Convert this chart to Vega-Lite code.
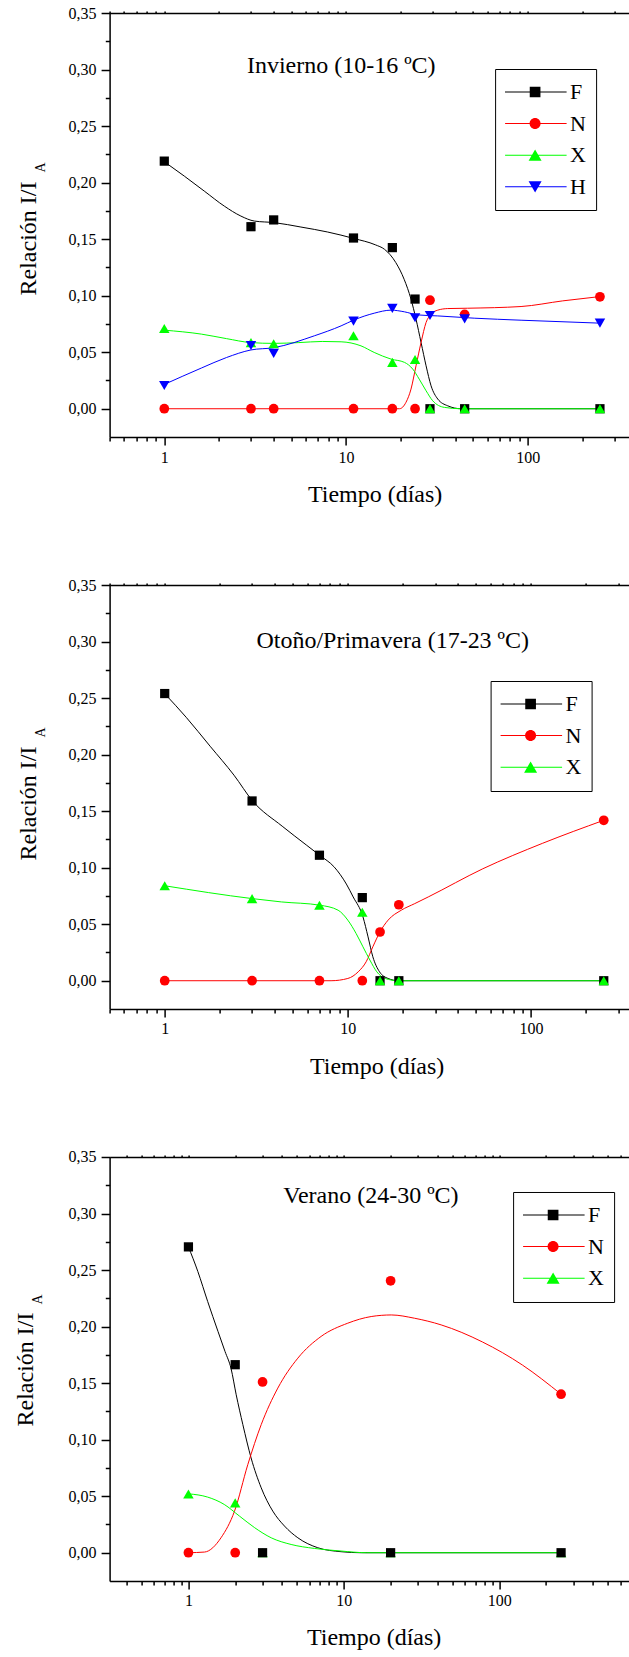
{
  "$schema": "https://vega.github.io/schema/vega-lite/v6.json",
  "background": "white",
  "padding": {"left": 12.6, "top": 5, "right": 0, "bottom": 0},
  "bounds": "flush",
  "spacing": 148,
  "config": {
    "view": {"stroke": null},
    "font": "Liberation Serif, Times New Roman, serif",
    "text": {"font": "Liberation Serif, Times New Roman, serif", "color": "black"},
    "axis": {"domainColor": "black", "tickColor": "black", "domainWidth": 1.5, "tickWidth": 1.5, "labelColor": "black", "titleColor": "black", "labelFont": "Liberation Serif, Times New Roman, serif", "titleFont": "Liberation Serif, Times New Roman, serif", "labelFontSize": 16, "titleFontSize": 24, "titleFontWeight": "normal", "grid": false, "labelOverlap": false, "labelFlush": false},
    "legend": {"strokeColor": "black", "padding": 10, "symbolSize": 100, "symbolStrokeWidth": 0, "symbolOpacity": 1, "labelFont": "Liberation Serif, Times New Roman, serif", "labelFontSize": 22, "labelColor": "black", "clipHeight": 26, "rowPadding": 5.6, "symbolOffset": 19, "labelOffset": 24, "labelBaseline": "middle"}
  },
  "datasets": {
    "p1pts": [
      {"s": "F", "t": 1, "v": 0.219}, {"s": "F", "t": 3, "v": 0.161}, {"s": "F", "t": 4, "v": 0.167}, {"s": "F", "t": 11, "v": 0.151}, {"s": "F", "t": 18, "v": 0.1425}, {"s": "F", "t": 24, "v": 0.097}, {"s": "F", "t": 29, "v": 0}, {"s": "F", "t": 45, "v": 0}, {"s": "F", "t": 250, "v": 0},
      {"s": "N", "t": 1, "v": 0}, {"s": "N", "t": 3, "v": 0}, {"s": "N", "t": 4, "v": 0}, {"s": "N", "t": 11, "v": 0}, {"s": "N", "t": 18, "v": 0}, {"s": "N", "t": 24, "v": 0}, {"s": "N", "t": 29, "v": 0.096}, {"s": "N", "t": 45, "v": 0.0835}, {"s": "N", "t": 250, "v": 0.099},
      {"s": "X", "t": 1, "v": 0.071}, {"s": "X", "t": 3, "v": 0.0585}, {"s": "X", "t": 4, "v": 0.0575}, {"s": "X", "t": 11, "v": 0.0645}, {"s": "X", "t": 18, "v": 0.041}, {"s": "X", "t": 24, "v": 0.0435}, {"s": "X", "t": 29, "v": 0}, {"s": "X", "t": 45, "v": 0}, {"s": "X", "t": 250, "v": 0},
      {"s": "H", "t": 1, "v": 0.0205}, {"s": "H", "t": 3, "v": 0.056}, {"s": "H", "t": 4, "v": 0.049}, {"s": "H", "t": 11, "v": 0.0775}, {"s": "H", "t": 18, "v": 0.0888}, {"s": "H", "t": 24, "v": 0.0805}, {"s": "H", "t": 29, "v": 0.0825}, {"s": "H", "t": 45, "v": 0.0795}, {"s": "H", "t": 250, "v": 0.0757}
    ],
    "p1crv": [
      {"s": "F", "t": 1, "v": 0.2185}, {"s": "F", "t": 1.29, "v": 0.2057}, {"s": "F", "t": 1.66, "v": 0.1925}, {"s": "F", "t": 2.14, "v": 0.1792}, {"s": "F", "t": 2.64, "v": 0.1704}, {"s": "F", "t": 3.13, "v": 0.166}, {"s": "F", "t": 4.03, "v": 0.1646}, {"s": "F", "t": 5.65, "v": 0.1607}, {"s": "F", "t": 7.93, "v": 0.1563}, {"s": "F", "t": 11.1, "v": 0.1505}, {"s": "F", "t": 14.5, "v": 0.145}, {"s": "F", "t": 16.3, "v": 0.141}, {"s": "F", "t": 18.8, "v": 0.1293}, {"s": "F", "t": 20.9, "v": 0.1145}, {"s": "F", "t": 22.8, "v": 0.0969}, {"s": "F", "t": 24.3, "v": 0.0792}, {"s": "F", "t": 25.9, "v": 0.0586}, {"s": "F", "t": 27.6, "v": 0.038}, {"s": "F", "t": 29.4, "v": 0.0203}, {"s": "F", "t": 32, "v": 0.0086}, {"s": "F", "t": 36.3, "v": 0.0026}, {"s": "F", "t": 43, "v": 0}, {"s": "F", "t": 250, "v": 0},
      {"s": "N", "t": 1, "v": 0}, {"s": "N", "t": 19.7, "v": 0}, {"s": "N", "t": 21.4, "v": 0.0057}, {"s": "N", "t": 22.8, "v": 0.0174}, {"s": "N", "t": 24.3, "v": 0.038}, {"s": "N", "t": 25.9, "v": 0.0586}, {"s": "N", "t": 27.6, "v": 0.0763}, {"s": "N", "t": 29.4, "v": 0.0836}, {"s": "N", "t": 32, "v": 0.0872}, {"s": "N", "t": 36.3, "v": 0.0886}, {"s": "N", "t": 46.7, "v": 0.0889}, {"s": "N", "t": 92, "v": 0.0904}, {"s": "N", "t": 156, "v": 0.0954}, {"s": "N", "t": 250, "v": 0.0992},
      {"s": "X", "t": 1, "v": 0.0695}, {"s": "X", "t": 1.6, "v": 0.066}, {"s": "X", "t": 2.2, "v": 0.062}, {"s": "X", "t": 3, "v": 0.0585}, {"s": "X", "t": 4, "v": 0.0578}, {"s": "X", "t": 5.5, "v": 0.0585}, {"s": "X", "t": 7.4, "v": 0.0595}, {"s": "X", "t": 9.4, "v": 0.0592}, {"s": "X", "t": 12.1, "v": 0.0556}, {"s": "X", "t": 14.3, "v": 0.0498}, {"s": "X", "t": 17.7, "v": 0.0439}, {"s": "X", "t": 21, "v": 0.041}, {"s": "X", "t": 23.3, "v": 0.0351}, {"s": "X", "t": 25.3, "v": 0.0262}, {"s": "X", "t": 27.6, "v": 0.0159}, {"s": "X", "t": 30, "v": 0.0071}, {"s": "X", "t": 34.8, "v": 0.0012}, {"s": "X", "t": 43, "v": 0}, {"s": "X", "t": 250, "v": 0},
      {"s": "H", "t": 1, "v": 0.0215}, {"s": "H", "t": 1.6, "v": 0.036}, {"s": "H", "t": 2.2, "v": 0.0453}, {"s": "H", "t": 3, "v": 0.052}, {"s": "H", "t": 4, "v": 0.054}, {"s": "H", "t": 6.7, "v": 0.0645}, {"s": "H", "t": 9.4, "v": 0.0733}, {"s": "H", "t": 11.1, "v": 0.0786}, {"s": "H", "t": 14.3, "v": 0.0845}, {"s": "H", "t": 17.7, "v": 0.0872}, {"s": "H", "t": 21, "v": 0.0857}, {"s": "H", "t": 24.8, "v": 0.083}, {"s": "H", "t": 32, "v": 0.0821}, {"s": "H", "t": 50.8, "v": 0.0801}, {"s": "H", "t": 92, "v": 0.0783}, {"s": "H", "t": 250, "v": 0.0757}
    ],
    "p2pts": [
      {"s": "F", "t": 1, "v": 0.254}, {"s": "F", "t": 3, "v": 0.159}, {"s": "F", "t": 7, "v": 0.111}, {"s": "F", "t": 12, "v": 0.0735}, {"s": "F", "t": 15, "v": 0}, {"s": "F", "t": 19, "v": 0}, {"s": "F", "t": 250, "v": 0},
      {"s": "N", "t": 1, "v": 0}, {"s": "N", "t": 3, "v": 0}, {"s": "N", "t": 7, "v": 0}, {"s": "N", "t": 12, "v": 0}, {"s": "N", "t": 15, "v": 0.0431}, {"s": "N", "t": 19, "v": 0.0672}, {"s": "N", "t": 250, "v": 0.1419},
      {"s": "X", "t": 1, "v": 0.084}, {"s": "X", "t": 3, "v": 0.0726}, {"s": "X", "t": 7, "v": 0.0668}, {"s": "X", "t": 12, "v": 0.0605}, {"s": "X", "t": 15, "v": 0}, {"s": "X", "t": 19, "v": 0}, {"s": "X", "t": 250, "v": 0}
    ],
    "p2crv": [
      {"s": "F", "t": 1, "v": 0.2539}, {"s": "F", "t": 1.31, "v": 0.233}, {"s": "F", "t": 1.77, "v": 0.2074}, {"s": "F", "t": 2.39, "v": 0.1818}, {"s": "F", "t": 3.02, "v": 0.159}, {"s": "F", "t": 4.38, "v": 0.1367}, {"s": "F", "t": 5.93, "v": 0.1201}, {"s": "F", "t": 7.04, "v": 0.1108}, {"s": "F", "t": 8.44, "v": 0.1005}, {"s": "F", "t": 9.82, "v": 0.0855}, {"s": "F", "t": 10.7, "v": 0.0741}, {"s": "F", "t": 12.1, "v": 0.0565}, {"s": "F", "t": 12.9, "v": 0.0388}, {"s": "F", "t": 13.7, "v": 0.0212}, {"s": "F", "t": 14.9, "v": 0.0079}, {"s": "F", "t": 16.6, "v": 0.002}, {"s": "F", "t": 19, "v": 0}, {"s": "F", "t": 250, "v": 0},
      {"s": "N", "t": 1, "v": 0}, {"s": "N", "t": 8.1, "v": 0}, {"s": "N", "t": 10, "v": 0.002}, {"s": "N", "t": 11.4, "v": 0.0079}, {"s": "N", "t": 12.6, "v": 0.0168}, {"s": "N", "t": 13.7, "v": 0.03}, {"s": "N", "t": 15, "v": 0.0433}, {"s": "N", "t": 16.6, "v": 0.0536}, {"s": "N", "t": 19.6, "v": 0.0624}, {"s": "N", "t": 23.2, "v": 0.0682}, {"s": "N", "t": 27.5, "v": 0.0741}, {"s": "N", "t": 54.6, "v": 0.099}, {"s": "N", "t": 116, "v": 0.1216}, {"s": "N", "t": 250, "v": 0.1419},
      {"s": "X", "t": 1, "v": 0.084}, {"s": "X", "t": 3.02, "v": 0.0726}, {"s": "X", "t": 4.34, "v": 0.0697}, {"s": "X", "t": 7.04, "v": 0.0668}, {"s": "X", "t": 8.85, "v": 0.0624}, {"s": "X", "t": 10, "v": 0.0536}, {"s": "X", "t": 11.1, "v": 0.0418}, {"s": "X", "t": 12.1, "v": 0.03}, {"s": "X", "t": 13.2, "v": 0.0183}, {"s": "X", "t": 14.4, "v": 0.0079}, {"s": "X", "t": 16, "v": 0.002}, {"s": "X", "t": 19, "v": 0}, {"s": "X", "t": 250, "v": 0}
    ],
    "p3pts": [
      {"s": "F", "t": 1, "v": 0.2705}, {"s": "F", "t": 2, "v": 0.1663}, {"s": "F", "t": 3, "v": 0}, {"s": "F", "t": 20, "v": 0}, {"s": "F", "t": 250, "v": 0},
      {"s": "N", "t": 1, "v": 0}, {"s": "N", "t": 2, "v": 0}, {"s": "N", "t": 3, "v": 0.151}, {"s": "N", "t": 20, "v": 0.2405}, {"s": "N", "t": 250, "v": 0.1402},
      {"s": "X", "t": 1, "v": 0.052}, {"s": "X", "t": 2, "v": 0.0441}, {"s": "X", "t": 3, "v": 0}, {"s": "X", "t": 20, "v": 0}, {"s": "X", "t": 250, "v": 0}
    ],
    "p3crv": [
      {"s": "F", "t": 1, "v": 0.2705}, {"s": "F", "t": 1.15, "v": 0.2487}, {"s": "F", "t": 1.33, "v": 0.2222}, {"s": "F", "t": 1.55, "v": 0.1957}, {"s": "F", "t": 1.72, "v": 0.178}, {"s": "F", "t": 1.88, "v": 0.163}, {"s": "F", "t": 2.03, "v": 0.1397}, {"s": "F", "t": 2.24, "v": 0.1133}, {"s": "F", "t": 2.53, "v": 0.0839}, {"s": "F", "t": 2.94, "v": 0.0574}, {"s": "F", "t": 3.49, "v": 0.0368}, {"s": "F", "t": 4.15, "v": 0.0236}, {"s": "F", "t": 5.06, "v": 0.0132}, {"s": "F", "t": 6.8, "v": 0.0044}, {"s": "F", "t": 9.6, "v": 0.0009}, {"s": "F", "t": 13, "v": 0}, {"s": "F", "t": 250, "v": 0},
      {"s": "N", "t": 1, "v": 0}, {"s": "N", "t": 1.27, "v": 0.0006}, {"s": "N", "t": 1.62, "v": 0.0132}, {"s": "N", "t": 1.98, "v": 0.0368}, {"s": "N", "t": 2.41, "v": 0.0779}, {"s": "N", "t": 2.94, "v": 0.1133}, {"s": "N", "t": 3.76, "v": 0.1456}, {"s": "N", "t": 5.06, "v": 0.1721}, {"s": "N", "t": 7.14, "v": 0.1913}, {"s": "N", "t": 10.6, "v": 0.203}, {"s": "N", "t": 15, "v": 0.2089}, {"s": "N", "t": 20.2, "v": 0.2103}, {"s": "N", "t": 28.5, "v": 0.2074}, {"s": "N", "t": 42.3, "v": 0.2015}, {"s": "N", "t": 78, "v": 0.1864}, {"s": "N", "t": 141, "v": 0.166}, {"s": "N", "t": 250, "v": 0.1402},
      {"s": "X", "t": 1, "v": 0.0521}, {"s": "X", "t": 1.33, "v": 0.0492}, {"s": "X", "t": 1.7, "v": 0.0427}, {"s": "X", "t": 2.13, "v": 0.0324}, {"s": "X", "t": 2.67, "v": 0.0221}, {"s": "X", "t": 3.41, "v": 0.0132}, {"s": "X", "t": 4.58, "v": 0.0073}, {"s": "X", "t": 6.46, "v": 0.0038}, {"s": "X", "t": 9.6, "v": 0.0015}, {"s": "X", "t": 14, "v": 0}, {"s": "X", "t": 250, "v": 0}
    ]
  },
  "vconcat": [
    {
      "width": 520, "height": 424,
      "layer": [
        {
          "data": {"name": "p1crv"}, "transform": [{"filter": "datum.s === 'F'"}],
          "mark": {"type": "line", "interpolate": "monotone", "strokeWidth": 1, "color": "#000000"},
          "encoding": {
            "x": {"field": "t", "type": "quantitative", "scale": {"type": "log", "domain": [0.5, 364], "nice": false},
              "axis": {"orient": "bottom", "values": [1, 10, 100], "tickSize": 8, "format": "d", "labelPadding": 4, "title": "Tiempo (días)", "titleX": 265, "titleY": 57, "titleBaseline": "middle", "titleAlign": "center"}},
            "y": {"field": "v", "type": "quantitative", "scale": {"domain": [-0.025, 0.35], "nice": false, "zero": false},
              "axis": {"orient": "left", "values": [0, 0.05, 0.1, 0.15, 0.2, 0.25, 0.3, 0.35], "tickSize": 8.5, "labelExpr": "replace(format(datum.value, '.2f'), '.', ',')", "labelPadding": 5, "title": "Relación I/I", "titleX": -81.5, "titleY": 225, "titleAngle": 270, "titleBaseline": "middle", "titleAlign": "center"}}
          }
        },
        {
          "data": {"name": "p1crv"}, "transform": [{"filter": "datum.s === 'N'"}],
          "mark": {"type": "line", "interpolate": "monotone", "strokeWidth": 1, "color": "#ff0000"},
          "encoding": {"x": {"field": "t", "type": "quantitative", "axis": null}, "y": {"field": "v", "type": "quantitative", "axis": null}}
        },
        {
          "data": {"name": "p1crv"}, "transform": [{"filter": "datum.s === 'X'"}],
          "mark": {"type": "line", "interpolate": "monotone", "strokeWidth": 1, "color": "#00ff00"},
          "encoding": {"x": {"field": "t", "type": "quantitative", "axis": null}, "y": {"field": "v", "type": "quantitative", "axis": null}}
        },
        {
          "data": {"name": "p1crv"}, "transform": [{"filter": "datum.s === 'H'"}],
          "mark": {"type": "line", "interpolate": "monotone", "strokeWidth": 1, "color": "#0000ff"},
          "encoding": {"x": {"field": "t", "type": "quantitative", "axis": null}, "y": {"field": "v", "type": "quantitative", "axis": null}}
        },
        {
          "data": {"name": "p1pts"}, "transform": [{"filter": "datum.s === 'F'"}],
          "mark": {"type": "point", "shape": "square", "filled": true, "opacity": 1, "size": 85, "color": "#000000"},
          "encoding": {
            "x": {"field": "t", "type": "quantitative", "axis": {"orient": "top", "values": [0.5,0.6,0.7,0.8,0.9,1,2,3,4,5,6,7,8,9,10,20,30,40,50,60,70,80,90,100,200,300], "tickSize": 2, "labels": false, "title": null, "domainWidth": 1.3}},
            "y": {"field": "v", "type": "quantitative", "axis": {"orient": "left", "values": [0.025, 0.075, 0.125, 0.175, 0.225, 0.275, 0.325], "tickSize": 4.3, "labels": false, "domain": false, "title": null}}
          }
        },
        {
          "data": {"name": "p1pts"}, "transform": [{"filter": "datum.s === 'N'"}],
          "mark": {"type": "point", "shape": "circle", "filled": true, "opacity": 1, "size": 95, "color": "#ff0000"},
          "encoding": {"x": {"field": "t", "type": "quantitative", "axis": null}, "y": {"field": "v", "type": "quantitative", "axis": null}}
        },
        {
          "data": {"name": "p1pts"}, "transform": [{"filter": "datum.s === 'X'"}],
          "mark": {"type": "point", "shape": "triangle-up", "filled": true, "opacity": 1, "size": 110, "color": "#00ff00"},
          "encoding": {"x": {"field": "t", "type": "quantitative", "axis": null}, "y": {"field": "v", "type": "quantitative", "axis": null}}
        },
        {
          "data": {"name": "p1pts"}, "transform": [{"filter": "datum.s === 'H'"}],
          "mark": {"type": "point", "shape": "triangle-down", "filled": true, "opacity": 1, "size": 110, "color": "#0000ff"},
          "encoding": {"x": {"field": "t", "type": "quantitative", "axis": null}, "y": {"field": "v", "type": "quantitative", "axis": null}}
        },
        {
          "data": {"name": "p1pts"},
          "mark": {"type": "point", "filled": true, "opacity": 0},
          "encoding": {
            "x": {"field": "t", "type": "quantitative", "axis": {"orient": "bottom", "values": [0.5,0.6,0.7,0.8,0.9,2,3,4,5,6,7,8,9,20,30,40,50,60,70,80,90,200,300], "tickSize": 4, "labels": false, "domain": false, "title": null}},
            "y": {"field": "v", "type": "quantitative", "axis": null},
            "color": {"field": "s", "type": "nominal", "scale": {"domain": ["F","N","X","H"], "range": ["#000000","#ff0000","#00ff00","#0000ff"]}, "legend": {"orient": "none", "legendX": 385.5, "legendY": 56, "title": null}},
            "shape": {"field": "s", "type": "nominal", "scale": {"domain": ["F","N","X","H"], "range": ["M-6.3,-0.1H6.3V0.1H-6.3Z M-1.07,-1.07H1.07V1.07H-1.07Z", "M-6.3,-0.1H6.3V0.1H-6.3Z M-1.1,0A1.1,1.1 0 1,1 1.1,0A1.1,1.1 0 1,1 -1.1,0Z", "M-6.3,-0.1H6.3V0.1H-6.3Z M0,-1.15L1.3,1.1L-1.3,1.1Z", "M-6.3,-0.1H6.3V0.1H-6.3Z M0,1.15L-1.3,-1.1L1.3,-1.1Z"]}, "legend": {"orient": "none", "legendX": 385.5, "legendY": 56, "title": null}}
          }
        },
        {
          "data": {"values": [{}]},
          "mark": {"type": "text", "fontSize": 24, "align": "center", "baseline": "middle"},
          "encoding": {"x": {"datum": 9.42, "type": "quantitative", "axis": null}, "y": {"datum": 0.3034, "type": "quantitative", "axis": null}, "text": {"value": "Invierno (10-16 ºC)"}}
        },
        {
          "data": {"values": [{}]},
          "mark": {"type": "text", "fontSize": 14, "align": "center", "baseline": "middle", "angle": 270, "dy": -68.5},
          "encoding": {"x": {"datum": 0.5, "type": "quantitative", "axis": null}, "y": {"datum": 0.2133, "type": "quantitative", "axis": null}, "text": {"value": "A"}}
        }
      ],
      "resolve": {"axis": {"x": "independent", "y": "independent"}}
    },
    {
      "width": 520, "height": 424,
      "layer": [
        {
          "data": {"name": "p2crv"}, "transform": [{"filter": "datum.s === 'F'"}],
          "mark": {"type": "line", "interpolate": "monotone", "strokeWidth": 1, "color": "#000000"},
          "encoding": {
            "x": {"field": "t", "type": "quantitative", "scale": {"type": "log", "domain": [0.5, 346], "nice": false},
              "axis": {"orient": "bottom", "values": [1, 10, 100], "tickSize": 8, "format": "d", "labelPadding": 4, "title": "Tiempo (días)", "titleX": 267, "titleY": 58, "titleBaseline": "middle", "titleAlign": "center"}},
            "y": {"field": "v", "type": "quantitative", "scale": {"domain": [-0.025, 0.35], "nice": false, "zero": false},
              "axis": {"orient": "left", "values": [0, 0.05, 0.1, 0.15, 0.2, 0.25, 0.3, 0.35], "tickSize": 8.5, "labelExpr": "replace(format(datum.value, '.2f'), '.', ',')", "labelPadding": 5, "title": "Relación I/I", "titleX": -81.5, "titleY": 218, "titleAngle": 270, "titleBaseline": "middle", "titleAlign": "center"}}
          }
        },
        {
          "data": {"name": "p2crv"}, "transform": [{"filter": "datum.s === 'N'"}],
          "mark": {"type": "line", "interpolate": "monotone", "strokeWidth": 1, "color": "#ff0000"},
          "encoding": {"x": {"field": "t", "type": "quantitative", "axis": null}, "y": {"field": "v", "type": "quantitative", "axis": null}}
        },
        {
          "data": {"name": "p2crv"}, "transform": [{"filter": "datum.s === 'X'"}],
          "mark": {"type": "line", "interpolate": "monotone", "strokeWidth": 1, "color": "#00ff00"},
          "encoding": {"x": {"field": "t", "type": "quantitative", "axis": null}, "y": {"field": "v", "type": "quantitative", "axis": null}}
        },
        {
          "data": {"name": "p2pts"}, "transform": [{"filter": "datum.s === 'F'"}],
          "mark": {"type": "point", "shape": "square", "filled": true, "opacity": 1, "size": 85, "color": "#000000"},
          "encoding": {
            "x": {"field": "t", "type": "quantitative", "axis": {"orient": "top", "values": [0.5,0.6,0.7,0.8,0.9,1,2,3,4,5,6,7,8,9,10,20,30,40,50,60,70,80,90,100,200,300], "tickSize": 2, "labels": false, "title": null, "domainWidth": 1.3}},
            "y": {"field": "v", "type": "quantitative", "axis": {"orient": "left", "values": [0.025, 0.075, 0.125, 0.175, 0.225, 0.275, 0.325], "tickSize": 4.3, "labels": false, "domain": false, "title": null}}
          }
        },
        {
          "data": {"name": "p2pts"}, "transform": [{"filter": "datum.s === 'N'"}],
          "mark": {"type": "point", "shape": "circle", "filled": true, "opacity": 1, "size": 95, "color": "#ff0000"},
          "encoding": {"x": {"field": "t", "type": "quantitative", "axis": null}, "y": {"field": "v", "type": "quantitative", "axis": null}}
        },
        {
          "data": {"name": "p2pts"}, "transform": [{"filter": "datum.s === 'X'"}],
          "mark": {"type": "point", "shape": "triangle-up", "filled": true, "opacity": 1, "size": 110, "color": "#00ff00"},
          "encoding": {"x": {"field": "t", "type": "quantitative", "axis": null}, "y": {"field": "v", "type": "quantitative", "axis": null}}
        },
        {
          "data": {"name": "p2pts"},
          "mark": {"type": "point", "filled": true, "opacity": 0},
          "encoding": {
            "x": {"field": "t", "type": "quantitative", "axis": {"orient": "bottom", "values": [0.5,0.6,0.7,0.8,0.9,2,3,4,5,6,7,8,9,20,30,40,50,60,70,80,90,200,300], "tickSize": 4, "labels": false, "domain": false, "title": null}},
            "y": {"field": "v", "type": "quantitative", "axis": null},
            "color": {"field": "s", "type": "nominal", "scale": {"domain": ["F","N","X"], "range": ["#000000","#ff0000","#00ff00"]}, "legend": {"orient": "none", "legendX": 381, "legendY": 96, "title": null}},
            "shape": {"field": "s", "type": "nominal", "scale": {"domain": ["F","N","X"], "range": ["M-6.3,-0.1H6.3V0.1H-6.3Z M-1.07,-1.07H1.07V1.07H-1.07Z", "M-6.3,-0.1H6.3V0.1H-6.3Z M-1.1,0A1.1,1.1 0 1,1 1.1,0A1.1,1.1 0 1,1 -1.1,0Z", "M-6.3,-0.1H6.3V0.1H-6.3Z M0,-1.15L1.3,1.1L-1.3,1.1Z"]}, "legend": {"orient": "none", "legendX": 381, "legendY": 96, "title": null}}
          }
        },
        {
          "data": {"values": [{}]},
          "mark": {"type": "text", "fontSize": 24, "align": "center", "baseline": "middle"},
          "encoding": {"x": {"datum": 17.6, "type": "quantitative", "axis": null}, "y": {"datum": 0.3008, "type": "quantitative", "axis": null}, "text": {"value": "Otoño/Primavera (17-23 ºC)"}}
        },
        {
          "data": {"values": [{}]},
          "mark": {"type": "text", "fontSize": 14, "align": "center", "baseline": "middle", "angle": 270, "dy": -68.5},
          "encoding": {"x": {"datum": 0.5, "type": "quantitative", "axis": null}, "y": {"datum": 0.2195, "type": "quantitative", "axis": null}, "text": {"value": "A"}}
        }
      ],
      "resolve": {"axis": {"x": "independent", "y": "independent"}}
    },
    {
      "width": 520, "height": 424,
      "layer": [
        {
          "data": {"name": "p3crv"}, "transform": [{"filter": "datum.s === 'F'"}],
          "mark": {"type": "line", "interpolate": "monotone", "strokeWidth": 1, "color": "#000000"},
          "encoding": {
            "x": {"field": "t", "type": "quantitative", "scale": {"type": "log", "domain": [0.311, 690], "nice": false},
              "axis": {"orient": "bottom", "values": [1, 10, 100], "tickSize": 8, "format": "d", "labelPadding": 4, "title": "Tiempo (días)", "titleX": 264, "titleY": 57, "titleBaseline": "middle", "titleAlign": "center"}},
            "y": {"field": "v", "type": "quantitative", "scale": {"domain": [-0.025, 0.35], "nice": false, "zero": false},
              "axis": {"orient": "left", "values": [0, 0.05, 0.1, 0.15, 0.2, 0.25, 0.3, 0.35], "tickSize": 8.5, "labelExpr": "replace(format(datum.value, '.2f'), '.', ',')", "labelPadding": 5, "title": "Relación I/I", "titleX": -84.5, "titleY": 212, "titleAngle": 270, "titleBaseline": "middle", "titleAlign": "center"}}
          }
        },
        {
          "data": {"name": "p3crv"}, "transform": [{"filter": "datum.s === 'N'"}],
          "mark": {"type": "line", "interpolate": "monotone", "strokeWidth": 1, "color": "#ff0000"},
          "encoding": {"x": {"field": "t", "type": "quantitative", "axis": null}, "y": {"field": "v", "type": "quantitative", "axis": null}}
        },
        {
          "data": {"name": "p3crv"}, "transform": [{"filter": "datum.s === 'X'"}],
          "mark": {"type": "line", "interpolate": "monotone", "strokeWidth": 1, "color": "#00ff00"},
          "encoding": {"x": {"field": "t", "type": "quantitative", "axis": null}, "y": {"field": "v", "type": "quantitative", "axis": null}}
        },
        {
          "data": {"name": "p3pts"}, "transform": [{"filter": "datum.s === 'X'"}],
          "mark": {"type": "point", "shape": "triangle-up", "filled": true, "opacity": 1, "size": 110, "color": "#00ff00"},
          "encoding": {
            "x": {"field": "t", "type": "quantitative", "axis": {"orient": "top", "values": [0.4,0.5,0.6,0.7,0.8,0.9,1,2,3,4,5,6,7,8,9,10,20,30,40,50,60,70,80,90,100,200,300,400,500,600], "tickSize": 2, "labels": false, "title": null, "domainWidth": 1.3}},
            "y": {"field": "v", "type": "quantitative", "axis": {"orient": "left", "values": [0.025, 0.075, 0.125, 0.175, 0.225, 0.275, 0.325], "tickSize": 4.3, "labels": false, "domain": false, "title": null}}
          }
        },
        {
          "data": {"name": "p3pts"}, "transform": [{"filter": "datum.s === 'F'"}],
          "mark": {"type": "point", "shape": "square", "filled": true, "opacity": 1, "size": 85, "color": "#000000"},
          "encoding": {"x": {"field": "t", "type": "quantitative", "axis": null}, "y": {"field": "v", "type": "quantitative", "axis": null}}
        },
        {
          "data": {"name": "p3pts"}, "transform": [{"filter": "datum.s === 'N'"}],
          "mark": {"type": "point", "shape": "circle", "filled": true, "opacity": 1, "size": 95, "color": "#ff0000"},
          "encoding": {"x": {"field": "t", "type": "quantitative", "axis": null}, "y": {"field": "v", "type": "quantitative", "axis": null}}
        },
        {
          "data": {"name": "p3pts"},
          "mark": {"type": "point", "filled": true, "opacity": 0},
          "encoding": {
            "x": {"field": "t", "type": "quantitative", "axis": {"orient": "bottom", "values": [0.4,0.5,0.6,0.7,0.8,0.9,2,3,4,5,6,7,8,9,20,30,40,50,60,70,80,90,200,300,400,500,600], "tickSize": 4, "labels": false, "domain": false, "title": null}},
            "y": {"field": "v", "type": "quantitative", "axis": null},
            "color": {"field": "s", "type": "nominal", "scale": {"domain": ["F","N","X"], "range": ["#000000","#ff0000","#00ff00"]}, "legend": {"orient": "none", "legendX": 403.5, "legendY": 35, "title": null}},
            "shape": {"field": "s", "type": "nominal", "scale": {"domain": ["F","N","X"], "range": ["M-6.3,-0.1H6.3V0.1H-6.3Z M-1.07,-1.07H1.07V1.07H-1.07Z", "M-6.3,-0.1H6.3V0.1H-6.3Z M-1.1,0A1.1,1.1 0 1,1 1.1,0A1.1,1.1 0 1,1 -1.1,0Z", "M-6.3,-0.1H6.3V0.1H-6.3Z M0,-1.15L1.3,1.1L-1.3,1.1Z"]}, "legend": {"orient": "none", "legendX": 403.5, "legendY": 35, "title": null}}
          }
        },
        {
          "data": {"values": [{}]},
          "mark": {"type": "text", "fontSize": 24, "align": "center", "baseline": "middle"},
          "encoding": {"x": {"datum": 14.94, "type": "quantitative", "axis": null}, "y": {"datum": 0.3155, "type": "quantitative", "axis": null}, "text": {"value": "Verano (24-30 ºC)"}}
        },
        {
          "data": {"values": [{}]},
          "mark": {"type": "text", "fontSize": 14, "align": "center", "baseline": "middle", "angle": 270, "dy": -71.5},
          "encoding": {"x": {"datum": 0.311, "type": "quantitative", "axis": null}, "y": {"datum": 0.224, "type": "quantitative", "axis": null}, "text": {"value": "A"}}
        }
      ],
      "resolve": {"axis": {"x": "independent", "y": "independent"}}
    }
  ],
  "resolve": {
    "scale": {"x": "independent", "y": "independent", "color": "independent", "shape": "independent"},
    "legend": {"color": "independent", "shape": "independent"}
  }
}
